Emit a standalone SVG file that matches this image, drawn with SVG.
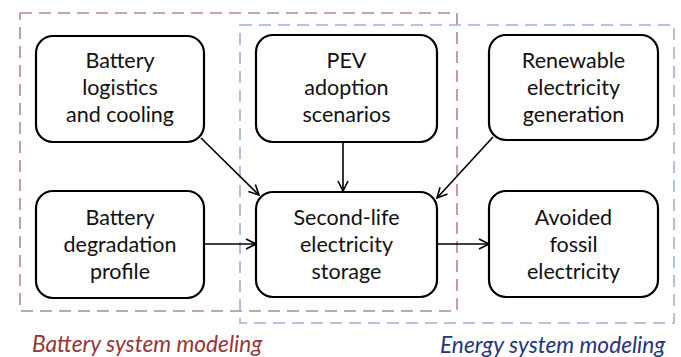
<svg xmlns="http://www.w3.org/2000/svg" width="681" height="357" viewBox="0 0 681 357">
  <style>
    .node rect { fill: #ffffff; stroke: #000000; stroke-width: 2.2; }
    .node text { font-family: Lato, "Open Sans", "Liberation Sans", sans-serif; font-size: 21.5px; fill: #111111; text-anchor: middle; }
    .region { fill: none; stroke-width: 1.6; stroke-dasharray: 12 7; }
    .edge { stroke: #000000; stroke-width: 1.6; fill: none; marker-end: url(#arrow); }
    .caption { font-family: Lato, "Open Sans", "Liberation Sans", sans-serif; font-size: 22.7px; font-style: italic; }
  </style>
  <defs>
    <marker id="arrow" viewBox="0 0 12 12" refX="11" refY="6" markerWidth="12" markerHeight="12" markerUnits="userSpaceOnUse" orient="auto">
      <path d="M1,1 L11,6 L1,11" fill="none" stroke="#000000" stroke-width="1.6"/>
    </marker>
  </defs>
  <rect width="681" height="357" fill="#ffffff"/>

  <!-- modeling regions -->
  <g id="regions">
    <rect class="region" x="20" y="13" width="437" height="298" stroke="#b48a8c"/>
    <rect class="region" x="240" y="25" width="434" height="298" stroke="#9fb1d3"/>
  </g>

  <!-- connectors -->
  <g id="connectors">
    <line class="edge" x1="201" y1="138" x2="259" y2="195"/>
    <line class="edge" x1="343" y1="142" x2="343" y2="191"/>
    <line class="edge" x1="493" y1="137" x2="437" y2="198"/>
    <line class="edge" x1="204" y1="244" x2="256" y2="244"/>
    <line class="edge" x1="437" y1="244" x2="489" y2="244"/>
  </g>

  <g id="battery-logistics" class="node">
    <rect x="36" y="36" width="168" height="106" rx="17"/>
    <text x="120" y="68">Battery</text>
    <text x="120" y="95">logistics</text>
    <text x="120" y="122">and cooling</text>
  </g>

  <g id="pev-adoption" class="node">
    <rect x="256" y="35" width="181" height="107" rx="17"/>
    <text x="346.5" y="68">PEV</text>
    <text x="346.5" y="95">adoption</text>
    <text x="346.5" y="122">scenarios</text>
  </g>

  <g id="renewable-generation" class="node">
    <rect x="489" y="35" width="169" height="105" rx="17"/>
    <text x="573.5" y="68">Renewable</text>
    <text x="573.5" y="95">electricity</text>
    <text x="573.5" y="122">generation</text>
  </g>

  <g id="battery-degradation" class="node">
    <rect x="36" y="191" width="168" height="107" rx="17"/>
    <text x="120" y="225">Battery</text>
    <text x="120" y="252">degradation</text>
    <text x="120" y="279">profile</text>
  </g>

  <g id="second-life-storage" class="node">
    <rect x="256" y="192" width="181" height="105" rx="17"/>
    <text x="346.5" y="225">Second-life</text>
    <text x="346.5" y="252">electricity</text>
    <text x="346.5" y="279">storage</text>
  </g>

  <g id="avoided-fossil" class="node">
    <rect x="489" y="191" width="169" height="106" rx="17"/>
    <text x="573.5" y="225">Avoided</text>
    <text x="573.5" y="252">fossil</text>
    <text x="573.5" y="279">electricity</text>
  </g>

  <g id="captions">
    <text class="caption" x="32" y="352" fill="#953735">Battery system modeling</text>
    <text class="caption" x="440" y="353" fill="#24367a">Energy system modeling</text>
  </g>
</svg>
